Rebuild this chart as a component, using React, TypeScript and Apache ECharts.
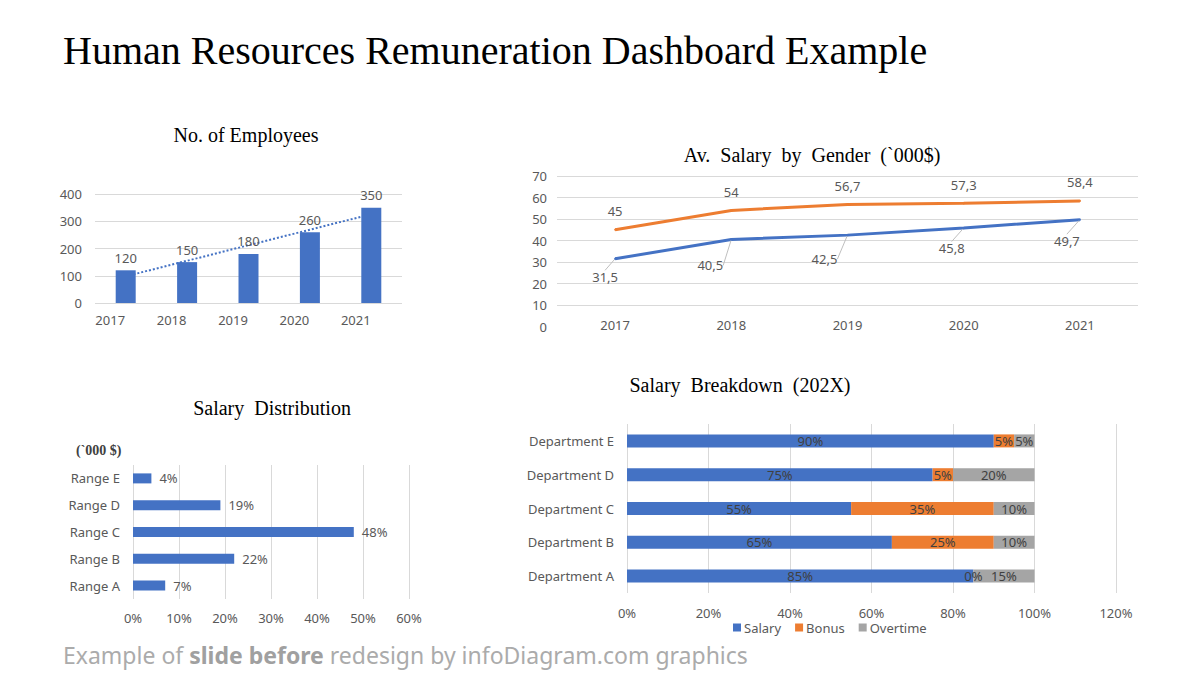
import React, { useEffect, useRef } from "react";
import * as echarts from "echarts";

// ---- Data ----
const years = ["2017", "2018", "2019", "2020", "2021"];
const employees = [120, 150, 180, 260, 350];
const employeesTrend = [98, 155, 212, 269, 326];

const femaleSalary = [45, 54, 56.7, 57.3, 58.4];
const maleSalary = [31.5, 40.5, 42.5, 45.8, 49.7];

const ranges = ["Range A", "Range B", "Range C", "Range D", "Range E"];
const rangeShare = [7, 22, 48, 19, 4];

const departments = ["Department A", "Department B", "Department C", "Department D", "Department E"];
const salaryPart = [85, 65, 55, 75, 90];
const bonusPart = [0, 25, 35, 5, 5];
const overtimePart = [15, 10, 10, 20, 5];

// label offsets for male series (dx, dy)
const maleLabelDx = [-10, -21, -23, -12, -13];
const maleLabelDy = [18, 26, 24, 20, 21];

const BLUE = "#4472C4";
const ORANGE = "#ED7D31";
const GRAY = "#A5A5A5";
const AXIS_TXT = "#595959";
const GRID_LINE = "#D9D9D9";
const SANS = "'Noto Sans', sans-serif";
const SERIF = "'Liberation Serif', 'Times New Roman', serif";

export default function App() {
  const ref = useRef<HTMLDivElement>(null);

  useEffect(() => {
    if (!ref.current) return;
    const chart = echarts.init(ref.current, null, { renderer: "svg" });

    const axisLabel = { color: AXIS_TXT, fontFamily: SANS, fontSize: 13 };
    const splitLine = { show: true, lineStyle: { color: GRID_LINE, width: 1 } };
    const comma = (v: number) => String(v).replace(".", ",");

    const option: any = {
      animation: false,
      backgroundColor: "#ffffff",
      textStyle: { fontFamily: SANS },
      graphic: [
        {
          type: "text",
          x: 63,
          y: 50,
          style: {
            text: "Human Resources Remuneration Dashboard Example",
            font: `40px ${SERIF}`,
            fill: "#000000",
            textAlign: "left",
            textVerticalAlign: "middle",
          },
        },
        {
          type: "text",
          x: 246,
          y: 135,
          style: { text: "No. of Employees", font: `20px ${SERIF}`, fill: "#000", textAlign: "center", textVerticalAlign: "middle" },
        },
        {
          type: "text",
          x: 812,
          y: 155,
          style: { text: "Av.  Salary  by  Gender  (`000$)", font: `20px ${SERIF}`, fill: "#000", textAlign: "center", textVerticalAlign: "middle" },
        },
        {
          type: "text",
          x: 272,
          y: 408,
          style: { text: "Salary  Distribution", font: `20px ${SERIF}`, fill: "#000", textAlign: "center", textVerticalAlign: "middle" },
        },
        {
          type: "text",
          x: 740,
          y: 385,
          style: { text: "Salary  Breakdown  (202X)", font: `20px ${SERIF}`, fill: "#000", textAlign: "center", textVerticalAlign: "middle" },
        },
        {
          type: "text",
          x: 76,
          y: 450,
          style: { text: "(`000 $)", font: `bold 14px ${SERIF}`, fill: "#404040", textAlign: "left", textVerticalAlign: "middle" },
        },
        {
          type: "text",
          x: 63,
          y: 655,
          style: {
            text: "Example of {b|slide before} redesign by infoDiagram.com graphics",
            font: `23px ${SANS}`,
            fill: "#ABABAB",
            textAlign: "left",
            textVerticalAlign: "middle",
            rich: {
              b: { fontWeight: "bold", fontSize: 23, fontFamily: SANS, fill: "#A0A0A0", color: "#A0A0A0" },
            },
          },
        },
      ],
      legend: {
        data: ["Salary", "Bonus", "Overtime"],
        left: 733,
        top: 621,
        padding: 0,
        itemWidth: 8,
        itemHeight: 8,
        itemGap: 14,
        icon: "rect",
        textStyle: { color: AXIS_TXT, fontFamily: SANS, fontSize: 13, padding: [0, 0, 0, -2] },
      },
      grid: [
        { left: 95, top: 194, width: 307, height: 109 },
        { left: 557, top: 176, width: 581, height: 150.5 },
        { left: 133, top: 465, width: 276, height: 134 },
        { left: 627, top: 424, width: 489, height: 169 },
      ],
      xAxis: [
        {
          gridIndex: 0,
          type: "category",
          data: years,
          axisLine: { show: false },
          axisTick: { show: false },
          axisLabel: { ...axisLabel, margin: 10, padding: [0, 31, 0, 0] },
        },
        {
          gridIndex: 1,
          type: "category",
          data: years,
          axisLine: { show: false },
          axisTick: { show: false },
          axisLabel: { ...axisLabel, margin: -2, verticalAlign: "middle" },
        },
        {
          gridIndex: 2,
          type: "value",
          min: 0,
          max: 60,
          interval: 10,
          axisLine: { show: false },
          axisTick: { show: false },
          splitLine,
          axisLabel: { ...axisLabel, margin: 12, formatter: "{value}%" },
        },
        {
          gridIndex: 3,
          type: "value",
          min: 0,
          max: 120,
          interval: 20,
          axisLine: { show: false },
          axisTick: { show: false },
          splitLine,
          axisLabel: { ...axisLabel, margin: 13, formatter: "{value}%" },
        },
      ],
      yAxis: [
        {
          gridIndex: 0,
          type: "value",
          min: 0,
          max: 400,
          interval: 100,
          axisLine: { show: false },
          axisTick: { show: false },
          splitLine,
          axisLabel: { ...axisLabel, margin: 13 },
        },
        {
          gridIndex: 1,
          type: "value",
          min: 0,
          max: 70,
          interval: 10,
          axisLine: { show: false },
          axisTick: { show: false },
          splitLine: {
            show: true,
            lineStyle: {
              color: ["rgba(0,0,0,0)", GRID_LINE, GRID_LINE, GRID_LINE, GRID_LINE, GRID_LINE, GRID_LINE, GRID_LINE],
              width: 1,
            },
          },
          axisLabel: { ...axisLabel, margin: 10 },
        },
        {
          gridIndex: 2,
          type: "category",
          data: ranges,
          axisLine: { show: false },
          axisTick: { show: false },
          axisLabel: { ...axisLabel, margin: 13 },
        },
        {
          gridIndex: 3,
          type: "category",
          data: departments,
          axisLine: { show: false },
          axisTick: { show: false },
          axisLabel: { ...axisLabel, margin: 13 },
        },
      ],
      series: [
        {
          name: "Employees",
          type: "bar",
          xAxisIndex: 0,
          yAxisIndex: 0,
          data: employees,
          barWidth: 20,
          z: 3,
          itemStyle: { color: BLUE },
          label: { show: true, position: "top", distance: 6, color: AXIS_TXT, fontFamily: SANS, fontSize: 13 },
        },
        {
          name: "Trend",
          type: "line",
          xAxisIndex: 0,
          yAxisIndex: 0,
          data: employeesTrend,
          symbol: "none",
          z: 2,
          lineStyle: { color: BLUE, width: 2, type: [2, 2] },
        },
        {
          name: "Female",
          type: "line",
          xAxisIndex: 1,
          yAxisIndex: 1,
          data: femaleSalary,
          symbol: "circle",
          symbolSize: 2,
          itemStyle: { color: ORANGE },
          lineStyle: { color: ORANGE, width: 3 },
          label: {
            show: true,
            position: "top",
            distance: 11,
            color: AXIS_TXT,
            fontFamily: SANS,
            fontSize: 13,
            formatter: (p: any) => comma(p.value),
          },
        },
        {
          name: "Male",
          type: "line",
          xAxisIndex: 1,
          yAxisIndex: 1,
          data: maleSalary,
          symbol: "circle",
          symbolSize: 2,
          itemStyle: { color: BLUE },
          lineStyle: { color: BLUE, width: 3 },
          label: {
            show: true,
            position: "inside",
            color: AXIS_TXT,
            fontFamily: SANS,
            fontSize: 13,
            formatter: (p: any) => comma(p.value),
          },
          labelLayout: (p: any) => ({ dx: maleLabelDx[p.dataIndex], dy: maleLabelDy[p.dataIndex] }),
          labelLine: { show: true, lineStyle: { color: "#BFBFBF", width: 1 } },
        },
        {
          name: "Distribution",
          type: "bar",
          xAxisIndex: 2,
          yAxisIndex: 2,
          data: rangeShare,
          barWidth: 10,
          itemStyle: { color: BLUE },
          label: {
            show: true,
            position: "right",
            distance: 8,
            color: AXIS_TXT,
            fontFamily: SANS,
            fontSize: 13,
            formatter: "{c}%",
          },
        },
        {
          name: "Salary",
          type: "bar",
          stack: "dep",
          xAxisIndex: 3,
          yAxisIndex: 3,
          data: salaryPart,
          barWidth: 13,
          itemStyle: { color: BLUE },
          label: { show: true, position: "inside", color: "#404040", fontFamily: SANS, fontSize: 13, formatter: "{c}%" },
        },
        {
          name: "Bonus",
          type: "bar",
          stack: "dep",
          xAxisIndex: 3,
          yAxisIndex: 3,
          data: bonusPart,
          barWidth: 13,
          itemStyle: { color: ORANGE },
          label: { show: true, position: "inside", color: "#404040", fontFamily: SANS, fontSize: 13, formatter: "{c}%" },
        },
        {
          name: "Overtime",
          type: "bar",
          stack: "dep",
          xAxisIndex: 3,
          yAxisIndex: 3,
          data: overtimePart,
          barWidth: 13,
          itemStyle: { color: GRAY },
          label: { show: true, position: "inside", color: "#404040", fontFamily: SANS, fontSize: 13, formatter: "{c}%" },
        },
      ],
    };

    chart.setOption(option);
    return () => chart.dispose();
  }, []);

  return (
    <div
      ref={ref}
      style={{ position: "fixed", left: 0, top: 0, width: 1200, height: 675, background: "#fff" }}
    />
  );
}
